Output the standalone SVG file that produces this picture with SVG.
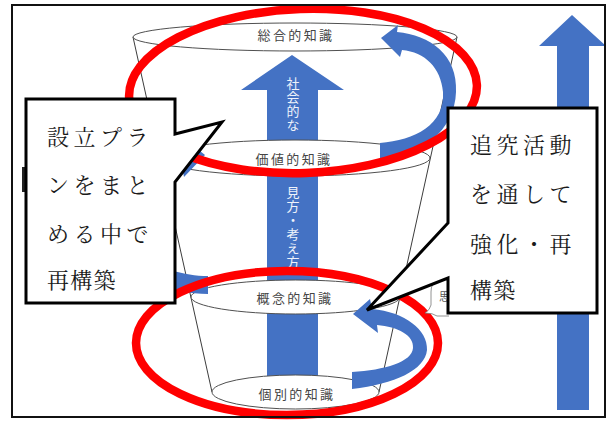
<svg xmlns="http://www.w3.org/2000/svg" width="613" height="426" viewBox="0 0 613 426">
<style>
.cup{fill:none;stroke:#3c3c3c;stroke-width:1}
.disc{fill:#fff;stroke:#505050;stroke-width:1}
.blue{fill:#4472C4}
.ring{fill:none;stroke:#FF0000;stroke-width:8.5}
.co{fill:#fff;stroke:#000;stroke-width:3;stroke-linejoin:miter}
.ct{font-family:"Noto Serif CJK JP","Noto Sans CJK JP",serif;font-size:22px;fill:#1a1a1a;dominant-baseline:central}
.et{font-family:"Noto Sans CJK JP",sans-serif;font-size:13px;fill:#454545;text-anchor:middle;dominant-baseline:central;letter-spacing:2.4px}
.at{font-family:"Noto Sans CJK JP",sans-serif;font-size:13px;fill:#eef2fb;writing-mode:vertical-rl;letter-spacing:1px}
</style>
<rect x="0" y="0" width="613" height="426" fill="#fff"/>

<g id="cup">
  <line class="cup" x1="133" y1="37" x2="212" y2="392"/>
  <line class="cup" x1="457" y1="37" x2="379" y2="392"/>
</g>

<g id="center-arrow">
  <path class="blue" d="M292,55 L344,90 L318,90 L318,385 L267,385 L267,90 L241,90 Z"/>
  <text class="at" x="293" y="77">社会的な</text>
  <text class="at" x="293" y="186">見方・考え方</text>
</g>

<g id="node-sougou">
  <ellipse class="disc" cx="295" cy="37" rx="162" ry="14"/>
  <text class="et" x="296" y="34">総合的知識</text>
</g>
<g id="node-kachi">
  <ellipse class="disc" cx="295" cy="158" rx="135" ry="18"/>
  <text class="et" x="294" y="158">価値的知識</text>
</g>
<g id="node-gainen">
  <ellipse class="disc" cx="295.5" cy="297" rx="104.5" ry="17"/>
  <text class="et" x="295" y="297">概念的知識</text>
</g>
<g id="node-kobetsu">
  <ellipse class="disc" cx="295.5" cy="392" rx="83.5" ry="17"/>
  <text class="et" x="297" y="393">個別的知識</text>
</g>

<g id="connectors">
  <path class="blue" d="M380,143 C415,140 445,125 443,92 C441,68 425,52 402,50 L400,57 L381,38 L398,25 L397,32 C430,35 458,55 456,92 C455,130 420,158 380,160 Z"/>
  <path class="blue" d="M352,372 C385,370 412,362 413,348 C414,335 398,327 377,325 L378,333 L353,314 L370,299 L372,309 C405,312 428,330 427,350 C425,370 395,384 352,389 Z"/>
  <path class="blue" d="M208,276 C170,276 132,258 132,224 C132,192 155,171 182,167 L184,177 L205,155 L180,135 L181,150 C140,153 112,182 112,224 C112,268 160,294 208,294 Z"/>
</g>

<g id="rings">
  <ellipse class="ring" cx="303" cy="91" rx="174" ry="82" transform="rotate(-2 303 91)"/>
  <ellipse class="ring" cx="287" cy="343" rx="151" ry="72"/>
</g>

<g id="right-arrow">
  <path class="blue" d="M572,15 L606,46 L589,46 L589,410 L557,410 L557,46 L539,46 Z"/>
</g>

<g id="hidden-bubble">
  <path d="M449,279 L437,281 Q431,283 431,292 L431,305 Q430,310 425,313 Q433,313 437,316 L449,316" fill="#fff" stroke="#777" stroke-width="0.8"/>
  <text x="439" y="296" font-family="Noto Sans CJK JP, sans-serif" font-size="11" fill="#555" dominant-baseline="central">思</text>
</g>
<rect x="22" y="167" width="3" height="25" fill="#222"/>

<g id="callout-left">
  <path class="co" d="M26,99 H175 V134 L222,122 L175,182 V303 H26 Z"/>
  <text class="ct" x="47" y="135" letter-spacing="4.5">設立プラ</text>
  <text class="ct" x="47" y="183" letter-spacing="4.5">ンをまと</text>
  <text class="ct" x="47" y="232" letter-spacing="4.5">める中で</text>
  <text class="ct" x="47" y="278" letter-spacing="1.3">再構築</text>
</g>

<g id="callout-right">
  <path class="co" d="M448,108 H597 V313 H448 V278 L367,310 L448,223 Z"/>
  <text class="ct" x="470" y="143" letter-spacing="4.5">追究活動</text>
  <text class="ct" x="470" y="192" letter-spacing="4.5">を通して</text>
  <text class="ct" x="470" y="242" letter-spacing="4.5">強化・再</text>
  <text class="ct" x="470" y="288" letter-spacing="1.3">構築</text>
</g>

<rect x="12" y="5" width="593" height="412" fill="none" stroke="#111" stroke-width="2"/>
</svg>
